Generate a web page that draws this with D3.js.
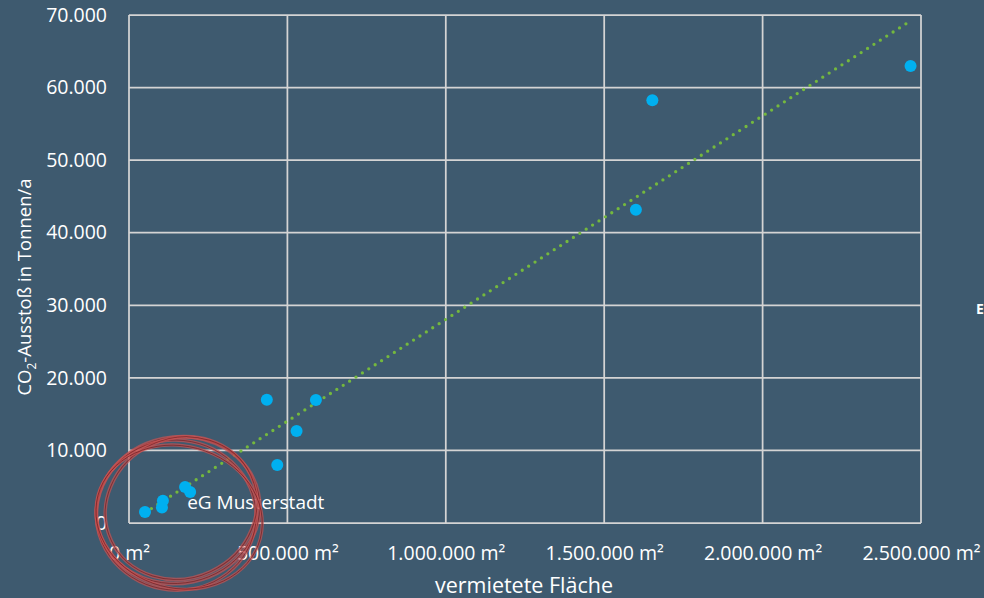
<!DOCTYPE html>
<html lang="de">
<head>
  <meta charset="UTF-8">
  <title>CO2-Ausstoß vs. vermietete Fläche</title>
  <script src="https://d3js.org/d3.v7.min.js"></script>
  <style>
    body {
      margin: 0;
      background: #3e5a6f;
      font-family: "Open Sans", Arial, sans-serif;
    }
    svg text {
      fill: #ffffff;
    }
  </style>
</head>
<body>
  <div id="chart"></div>

  <script>
    // vermietete Fläche in m² / CO2-Ausstoß in t/a
    const flaeche = [50500, 107000, 104000, 177000, 193000, 435000, 468000, 529000, 590000, 1600000, 1652000, 2467000];
    const ausstoss = [1520, 3070, 2140, 4960, 4270, 16990, 7990, 12680, 16950, 43170, 58250, 62970];
    const xTicks = [0, 500000, 1000000, 1500000, 2000000, 2500000];
    const yTicks = [0, 10000, 20000, 30000, 40000, 50000, 60000, 70000];
    const highlightLabel = "eG Musterstadt";

    const width = 984, height = 598;
    const margin = { top: 15, right: 63, bottom: 75, left: 129 };
    const w = width - margin.left - margin.right;
    const h = height - margin.top - margin.bottom;

    const de = d3.formatLocale({ decimal: ",", thousands: ".", grouping: [3], currency: ["", " €"] });
    const fmt = de.format(",d");

    const svg = d3.select("#chart")
      .append("svg")
      .attr("width", width)
      .attr("height", height);

    const g = svg.append("g")
      .attr("transform", `translate(${margin.left},${margin.top})`);

    const x = d3.scaleLinear().domain([0, 2500000]).range([0, w]);
    const y = d3.scaleLinear().domain([0, 70000]).range([h, 0]);

    // grid lines
    g.selectAll(".hgrid")
      .data(yTicks)
      .enter().append("line")
      .attr("x1", 0).attr("x2", w)
      .attr("y1", d => y(d)).attr("y2", d => y(d))
      .attr("stroke", "#d4d4d4")
      .attr("stroke-width", 1.75);

    g.selectAll(".vgrid")
      .data(xTicks)
      .enter().append("line")
      .attr("x1", d => x(d)).attr("x2", d => x(d))
      .attr("y1", 0).attr("y2", h)
      .attr("stroke", "#d4d4d4")
      .attr("stroke-width", 1.75);

    // axes (labels only)
    const yAxis = g.append("g")
      .call(d3.axisLeft(y).tickValues(yTicks).tickSize(0).tickPadding(22).tickFormat(fmt));
    const xAxis = g.append("g")
      .attr("transform", `translate(0,${h})`)
      .call(d3.axisBottom(x).tickValues(xTicks).tickSize(0).tickPadding(23).tickFormat(d => fmt(d) + " m²"));

    [yAxis, xAxis].forEach(a => {
      a.select(".domain").remove();
      a.selectAll("text")
        .style("font-family", "'Open Sans', Arial, sans-serif")
        .style("font-size", "19.5px")
        .attr("fill", "#ffffff");
    });

    // axis titles
    svg.append("text")
      .attr("x", margin.left + w / 2 - 1)
      .attr("y", 593)
      .attr("text-anchor", "middle")
      .style("font-size", "21.5px")
      .text("vermietete Fläche");

    const yTitle = svg.append("text")
      .attr("transform", `translate(31,${margin.top + 272}) rotate(-90)`)
      .attr("text-anchor", "middle")
      .style("font-size", "18.5px");
    yTitle.append("tspan").text("CO");
    yTitle.append("tspan").attr("dy", 5).style("font-size", "12px").text("2");
    yTitle.append("tspan").attr("dy", -5).text("-Ausstoß in Tonnen/a");

    // clipped legend text at the right edge
    svg.append("text")
      .attr("x", 976)
      .attr("y", 314)
      .style("font-size", "14px")
      .style("font-weight", "bold")
      .text("E");

    // linear trend line (least squares)
    const pts = flaeche.map((f, i) => [f, ausstoss[i]]);
    const mx = d3.mean(flaeche), my = d3.mean(ausstoss);
    const slope = d3.sum(pts, p => (p[0] - mx) * (p[1] - my)) / d3.sum(pts, p => (p[0] - mx) ** 2);
    const icpt = my - slope * mx;
    const xr = d3.extent(flaeche);

    g.append("path")
      .datum(xr.map(v => [v, icpt + slope * v]))
      .attr("d", d3.line().x(d => x(d[0])).y(d => y(d[1])))
      .attr("fill", "none")
      .attr("stroke", "#74b83e")
      .attr("stroke-width", 3.3)
      .attr("stroke-linecap", "round")
      .attr("stroke-dasharray", "0 7.6");

    // points
    g.selectAll(".dot")
      .data(pts)
      .enter().append("circle")
      .attr("cx", d => x(d[0]))
      .attr("cy", d => y(d[1]))
      .attr("r", 6)
      .attr("fill", "#00b0f0");

    // label for highlighted point
    g.append("text")
      .attr("x", x(flaeche[4]) - 3)
      .attr("y", y(ausstoss[4]) + 17)
      .style("font-size", "19px")
      .text(highlightLabel);

    // hand drawn red circle annotation
    const cx = x(155000), cy = y(1500);
    const rings = [
      { dx: 0, dy: -2, rx: 82, ry: 73, rot: -12, sw: 2.2 },
      { dx: -2, dy: 3, rx: 80, ry: 75, rot: 6, sw: 1.8 },
      { dx: 3, dy: -4, rx: 77, ry: 70, rot: -25, sw: 2 },
      { dx: 1, dy: 5, rx: 84, ry: 71, rot: 15, sw: 1.6 }
    ];
    const ann = g.append("g").attr("fill", "none");
    rings.forEach(r => {
      ann.append("ellipse")
        .attr("cx", cx + r.dx).attr("cy", cy + r.dy)
        .attr("rx", r.rx).attr("ry", r.ry)
        .attr("transform", `rotate(${r.rot},${cx + r.dx},${cy + r.dy})`)
        .attr("stroke", "#c75252")
        .attr("stroke-opacity", 0.7)
        .attr("stroke-width", r.sw + 1.6);
      ann.append("ellipse")
        .attr("cx", cx + r.dx).attr("cy", cy + r.dy)
        .attr("rx", r.rx).attr("ry", r.ry)
        .attr("transform", `rotate(${r.rot},${cx + r.dx},${cy + r.dy})`)
        .attr("stroke", "#6e1c1f")
        .attr("stroke-opacity", 0.7)
        .attr("stroke-width", 0.9);
    });
  </script>
</body>
</html>
